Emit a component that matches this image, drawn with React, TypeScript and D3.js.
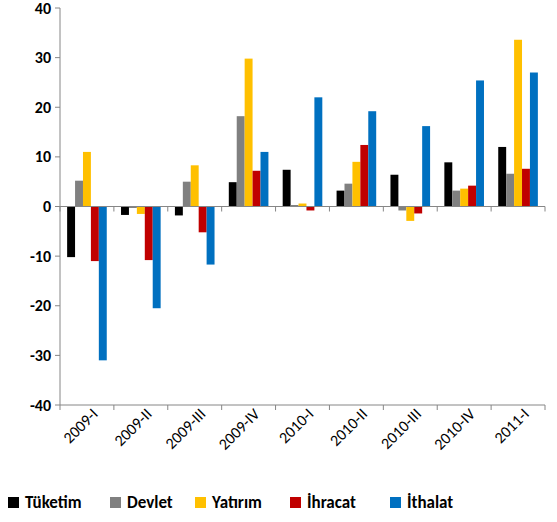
import * as d3 from "d3";

const categories = ["2009-I", "2009-II", "2009-III", "2009-IV", "2010-I", "2010-II", "2010-III", "2010-IV", "2011-I"];
const seriesNames = ["Tüketim", "Devlet", "Yatırım", "İhracat", "İthalat"];
const seriesColors = ["#000000", "#808080", "#FFC000", "#C00000", "#0070C0"];
const tuketim = [-10.2, -1.7, -1.8, 4.9, 7.4, 3.2, 6.4, 8.9, 12.0];
const devlet = [5.2, -0.3, 5.0, 18.2, 0.3, 4.6, -0.8, 3.2, 6.6];
const yatirim = [11.0, -1.5, 8.3, 29.8, 0.6, 9.0, -2.9, 3.6, 33.6];
const ihracat = [-11.0, -10.8, -5.2, 7.2, -0.8, 12.4, -1.4, 4.2, 7.6];
const ithalat = [-31.0, -20.5, -11.7, 11.0, 22.0, 19.2, 16.2, 25.4, 27.0];
const yTicks = [-40, -30, -20, -10, 0, 10, 20, 30, 40];

const series = [tuketim, devlet, yatirim, ihracat, ithalat];
const font = "Carlito, Lato, sans-serif";

export default function App() {
  const W = 557, H = 522;
  const left = 60, right = 545, top = 8, bottom = 405;
  const x = d3.scaleBand().domain(categories).range([left, right]);
  const inner = d3.scaleBand().domain(seriesNames).range([0, x.bandwidth()]).paddingOuter(0.9).paddingInner(0);
  const y = d3.scaleLinear().domain([-40, 40]).range([bottom, top]);
  const y0 = y(0);
  const bounds = d3.range(categories.length + 1).map((i) => left + i * x.step());
  const legendX = [8, 110, 195, 290, 390];

  return (
    <svg width={W} height={H} style={{ position: "absolute", left: 0, top: 0, background: "#fff" }} fontFamily={font}>
      {series.map((vals, s) =>
        vals.map((v, i) => (
          <rect key={`${s}-${i}`} x={x(categories[i])! + inner(seriesNames[s])!} width={inner.bandwidth()}
            y={Math.min(y(v), y0)} height={Math.abs(y(v) - y0)} fill={seriesColors[s]} />
        ))
      )}
      <line x1={left} x2={left} y1={top} y2={bottom} stroke="#868686" />
      {yTicks.map((t) => (
        <g key={t}>
          <line x1={left - 5} x2={left} y1={y(t)} y2={y(t)} stroke="#868686" />
          <text x={left - 9} y={y(t)} dy="0.35em" textAnchor="end" fontSize={16} fontWeight="bold">{t}</text>
        </g>
      ))}
      <line x1={left} x2={right} y1={y0} y2={y0} stroke="#868686" />
      <line x1={left} x2={right} y1={bottom} y2={bottom} stroke="#868686" />
      {bounds.map((b, i) => (
        <g key={i}>
          <line x1={b} x2={b} y1={y0} y2={y0 + 5} stroke="#868686" />
          <line x1={b} x2={b} y1={bottom} y2={bottom + 5} stroke="#868686" />
        </g>
      ))}
      {categories.map((c) => {
        const cx = x(c)! + x.bandwidth() / 2 + 12;
        return (
          <text key={c} transform={`translate(${cx},${bottom + 10}) rotate(-45)`} textAnchor="end" fontSize={16}>{c}</text>
        );
      })}
      {seriesNames.map((n, i) => (
        <g key={n}>
          <rect x={legendX[i]} y={497} width={11} height={11} fill={seriesColors[i]} />
          <text x={legendX[i] + 17} y={508} fontSize={17} fontWeight="bold">{n}</text>
        </g>
      ))}
    </svg>
  );
}
